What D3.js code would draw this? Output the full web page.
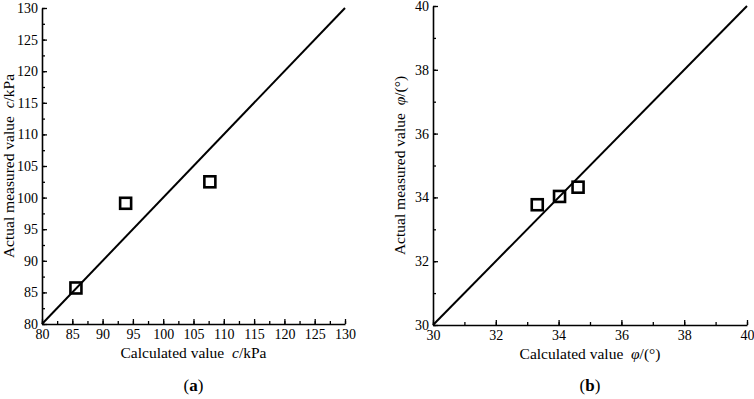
<!DOCTYPE html>
<html>
<head>
<meta charset="utf-8">
<script src="https://cdn.jsdelivr.net/npm/d3@7"></script>
<style>
  body { margin: 0; background: #fff; }
  svg text { font-family: "Liberation Serif", "Times New Roman", serif; fill: #000; }
</style>
</head>
<body>
<div id="chart"></div>
<script>
// panel (a): cohesion c
const cCalc = [85.6, 93.8, 107.7];
const cMeas = [85.7, 99.1, 102.5];
const cTicks = [80, 85, 90, 95, 100, 105, 110, 115, 120, 125, 130];

// panel (b): friction angle phi
const phiCalc = [33.32, 34.03, 34.62];
const phiMeas = [33.77, 34.03, 34.32];
const phiTicks = [30, 32, 34, 36, 38, 40];

const svg = d3.select("#chart").append("svg")
    .attr("width", 754)
    .attr("height", 399);

const panel = (opt) => {
    const xScale = d3.scaleLinear().domain(opt.domain).range([opt.left, opt.right]);
    const yScale = d3.scaleLinear().domain(opt.domain).range([opt.bottom, opt.top]);
    const g = svg.append("g");

    // minor ticks
    const minor = d3.range(opt.domain[0], opt.domain[1] + 1e-9, opt.minorStep);
    g.append("g")
        .attr("transform", "translate(0," + opt.bottom + ")")
        .call(d3.axisBottom(xScale).tickValues(minor).tickSize(-3).tickFormat(""))
        .call(a => a.select(".domain").remove());
    g.append("g")
        .attr("transform", "translate(" + opt.left + ",0)")
        .call(d3.axisLeft(yScale).tickValues(minor).tickSize(-3).tickFormat(""))
        .call(a => a.select(".domain").remove());

    // major ticks
    const xa = g.append("g")
        .attr("transform", "translate(0," + opt.bottom + ")")
        .call(d3.axisBottom(xScale).tickValues(opt.ticks).tickSize(-5).tickPadding(4).tickSizeOuter(0));
    xa.selectAll("text").attr("font-size", 14).attr("dy", "0.8em");
    const ya = g.append("g")
        .attr("transform", "translate(" + opt.left + ",0)")
        .call(d3.axisLeft(yScale).tickValues(opt.ticks).tickSize(-5).tickPadding(4).tickSizeOuter(0));
    ya.selectAll("text").attr("font-size", 14).attr("x", -4);
    g.selectAll(".domain").attr("stroke", "#000").attr("stroke-width", 1.6);
    g.selectAll(".tick line").attr("stroke", "#000").attr("stroke-width", 1.3);

    // 1:1 line
    const line = d3.line().x(d => xScale(d)).y(d => yScale(d));
    g.append("path")
        .datum(opt.domain)
        .attr("d", line)
        .attr("fill", "none")
        .attr("stroke", "#000")
        .attr("stroke-width", 2);

    // points
    g.selectAll("rect.pt")
        .data(opt.xs.map((x, i) => [x, opt.ys[i]]))
        .join("rect")
        .attr("class", "pt")
        .attr("x", d => xScale(d[0]) - 5.5)
        .attr("y", d => yScale(d[1]) - 5.5)
        .attr("width", 11)
        .attr("height", 11)
        .attr("fill", "none")
        .attr("stroke", "#000")
        .attr("stroke-width", 2.6);

    const cx = (opt.left + opt.right) / 2;
    const cy = (opt.top + opt.bottom) / 2;

    // x title
    const xt = g.append("text")
        .attr("x", cx)
        .attr("y", opt.bottom + 34)
        .attr("text-anchor", "middle")
        .attr("font-size", 15.5);
    xt.append("tspan").text("Calculated value\u00a0\u00a0");
    xt.append("tspan").attr("font-style", "italic").text(opt.sym);
    xt.append("tspan").text(opt.unit);

    // y title
    const yt = g.append("text")
        .attr("transform", "translate(" + (opt.left - 28) + "," + cy + ") rotate(-90)")
        .attr("text-anchor", "middle")
        .attr("font-size", 15.5);
    yt.append("tspan").text("Actual measured value\u00a0\u00a0");
    yt.append("tspan").attr("font-style", "italic").text(opt.sym);
    yt.append("tspan").text(opt.unit);

    // panel label
    const lt = g.append("text")
        .attr("x", cx)
        .attr("y", 391)
        .attr("text-anchor", "middle")
        .attr("font-size", 17);
    lt.append("tspan").text("(");
    lt.append("tspan").attr("font-weight", "bold").text(opt.label);
    lt.append("tspan").text(")");
};

panel({domain: [80, 130], ticks: cTicks, minorStep: 2.5, xs: cCalc, ys: cMeas,
       left: 42, right: 345, top: 8, bottom: 324, sym: "c", unit: "/kPa", label: "a"});
panel({domain: [30, 40], ticks: phiTicks, minorStep: 1, xs: phiCalc, ys: phiMeas,
       left: 433, right: 747, top: 6, bottom: 325, sym: "φ", unit: "/(°)", label: "b"});
</script>
</body>
</html>
